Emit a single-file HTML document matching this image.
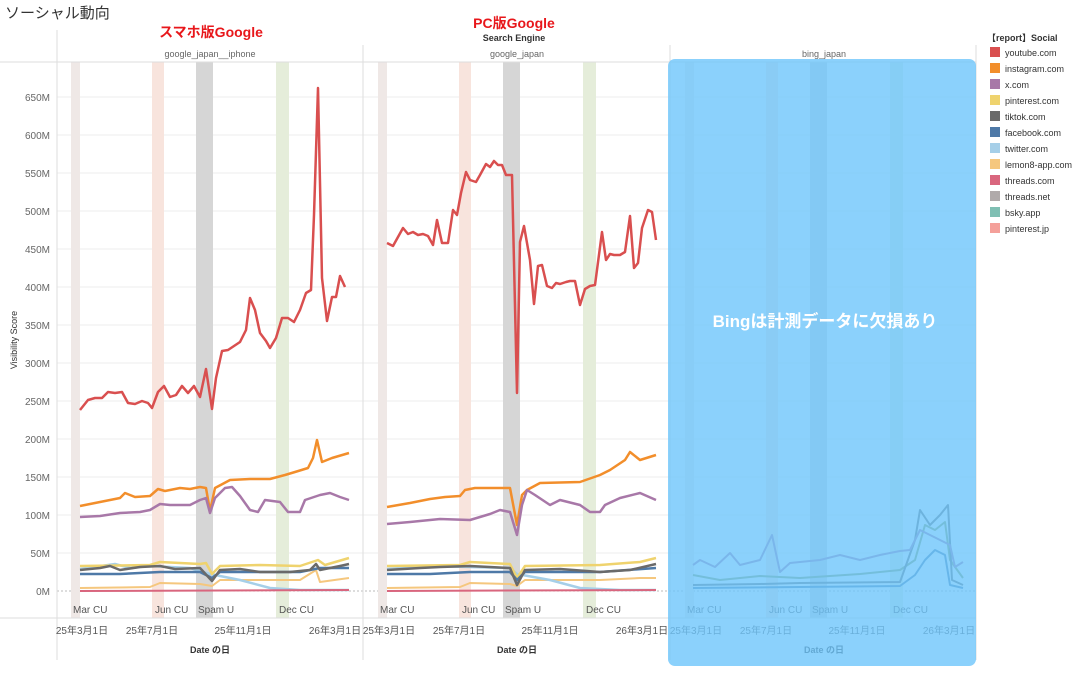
<!DOCTYPE html>
<html><head><meta charset="utf-8"><style>
body{margin:0;background:#fff;width:1087px;height:675px;overflow:hidden;font-family:"Liberation Sans","Noto Sans CJK JP",sans-serif}
</style></head><body>
<svg width="1087" height="675" xmlns="http://www.w3.org/2000/svg" font-family="Liberation Sans, Noto Sans CJK JP, sans-serif">
<defs>
<g id="bands">
<rect x="71" y="62" width="9" height="556" fill="#efe8e6"/>
<rect x="152" y="62" width="12" height="556" fill="#f8e4dd"/>
<rect x="196" y="62" width="17" height="556" fill="#d6d6d6"/>
<rect x="276" y="62" width="13" height="556" fill="#e5edda"/>
<g font-size="10" fill="#555"><text x="73" y="613">Mar CU</text><text x="155" y="613">Jun CU</text><text x="198" y="613">Spam U</text><text x="279" y="613">Dec CU</text></g>
</g>
</defs>
<text x="5" y="18" font-size="15" fill="#333">ソーシャル動向</text>
<!-- grid -->
<g stroke="#eee" stroke-width="1">
<line x1="57" x2="976" y1="97" y2="97"/><line x1="57" x2="976" y1="135" y2="135"/><line x1="57" x2="976" y1="173" y2="173"/><line x1="57" x2="976" y1="211" y2="211"/><line x1="57" x2="976" y1="249" y2="249"/><line x1="57" x2="976" y1="287" y2="287"/><line x1="57" x2="976" y1="325" y2="325"/><line x1="57" x2="976" y1="363" y2="363"/><line x1="57" x2="976" y1="401" y2="401"/><line x1="57" x2="976" y1="439" y2="439"/><line x1="57" x2="976" y1="477" y2="477"/><line x1="57" x2="976" y1="515" y2="515"/><line x1="57" x2="976" y1="553" y2="553"/>
</g>
<line x1="57" x2="976" y1="591" y2="591" stroke="#bbb" stroke-dasharray="2,2"/>
<use href="#bands"/>
<use href="#bands" transform="translate(307,0)"/>
<use href="#bands" transform="translate(614,0)"/>
<g stroke="#ddd"><line x1="0" x2="976" y1="62" y2="62"/><line x1="0" x2="976" y1="618" y2="618"/>
<line x1="57" x2="57" y1="30" y2="660"/><line x1="363" x2="363" y1="45" y2="660"/><line x1="670" x2="670" y1="45" y2="660"/><line x1="976" x2="976" y1="45" y2="660"/></g>
<g font-size="10" fill="#666" text-anchor="end">
<text x="50" y="101">650M</text><text x="50" y="139">600M</text><text x="50" y="177">550M</text><text x="50" y="215">500M</text><text x="50" y="253">450M</text><text x="50" y="291">400M</text><text x="50" y="329">350M</text><text x="50" y="367">300M</text><text x="50" y="405">250M</text><text x="50" y="443">200M</text><text x="50" y="481">150M</text><text x="50" y="519">100M</text><text x="50" y="557">50M</text><text x="50" y="595">0M</text>
</g>
<text transform="translate(17,340) rotate(-90)" font-size="9" fill="#333" text-anchor="middle">Visibility Score</text>
<g font-size="9" fill="#666" text-anchor="middle">
<text x="210" y="57">google_japan__iphone</text><text x="517" y="57">google_japan</text><text x="824" y="57">bing_japan</text>
</g>
<text x="514" y="41" font-size="9" fill="#333" font-weight="bold" text-anchor="middle">Search Engine</text>
<text x="211" y="37" font-size="14" fill="#e8171b" font-weight="bold" text-anchor="middle">スマホ版Google</text>
<text x="514" y="28" font-size="14" fill="#e8171b" font-weight="bold" text-anchor="middle">PC版Google</text>
<g font-size="10" fill="#555" text-anchor="middle">
<text x="82" y="634">25年3月1日</text><text x="152" y="634">25年7月1日</text><text x="243" y="634">25年11月1日</text><text x="335" y="634">26年3月1日</text>
<text x="389" y="634">25年3月1日</text><text x="459" y="634">25年7月1日</text><text x="550" y="634">25年11月1日</text><text x="642" y="634">26年3月1日</text>
<text x="696" y="634">25年3月1日</text><text x="766" y="634">25年7月1日</text><text x="857" y="634">25年11月1日</text><text x="949" y="634">26年3月1日</text>
</g>
<g font-size="9" fill="#333" font-weight="bold" text-anchor="middle"><text x="210" y="653">Date の日</text><text x="517" y="653">Date の日</text><text x="824" y="653">Date の日</text></g>
<g fill="none" stroke-width="2.5" stroke-linejoin="round">
<!-- panel1 -->
<polyline stroke="#f5c77e" stroke-width="2" points="80,588 150,587 160,583 200,584 212,586 220,580 260,580 300,580 316,570 320,582 349,578"/>
<polyline stroke="#a6cfe8" points="80,569 115,564 130,568 150,566 190,568 210,574 240,580 270,588 300,590 349,590"/>
<polyline stroke="#efd36e" points="80,566 150,565 160,562 200,564 206,563 212,574 220,566 260,565 300,566 318,560 325,565 349,558"/>
<polyline stroke="#4e79a7" points="80,574 120,574 160,572 200,572 212,578 220,572 260,572 300,572 320,568 349,568"/>
<polyline stroke="#6a6a6a" points="80,570 100,568 110,566 120,570 140,567 160,566 175,569 200,568 212,581 220,570 240,569 260,572 290,572 310,570 316,564 320,570 340,566 349,564"/>
<polyline stroke="#d9667e" stroke-width="2" points="80,591 349,590"/>
<polyline stroke="#f28e2b" points="80,506 100,502 120,498 125,493 135,497 150,496 158,489 165,491 180,488 190,489 200,487 206,488 210,511 215,488 230,480 250,479 270,479 285,475 295,472 308,468 313,458 317,440 322,462 332,458 349,453"/>
<polyline stroke="#a878a8" points="80,517 100,516 120,513 140,512 150,510 160,504 170,505 190,505 200,500 206,498 210,513 215,498 225,488 232,487 240,496 250,510 258,512 265,500 280,502 288,512 300,512 305,500 320,495 330,493 340,497 349,500"/>
<polyline stroke="#d94f4f" points="80,410 88,400 95,398 102,398 108,392 115,393 122,392 128,403 135,404 142,401 148,403 152,408 158,392 164,386 170,397 176,395 182,386 188,393 194,386 200,397 206,369 212,409 216,378 222,351 228,350 234,346 240,342 246,330 250,298 255,310 260,333 266,341 270,348 276,338 282,318 288,318 294,322 300,310 306,293 311,290 314,215 318,88 322,278 327,321 332,297 336,297 340,276 345,287"/>
<!-- panel2 -->
<polyline stroke="#f5c77e" stroke-width="2" points="387,588 460,587 470,583 510,584 517,586 525,580 600,580 640,578 656,578"/>
<polyline stroke="#a6cfe8" points="387,569 430,566 470,567 510,568 517,574 550,580 580,588 620,590 656,590"/>
<polyline stroke="#efd36e" points="387,566 460,565 470,562 510,564 517,578 525,566 600,565 640,562 656,558"/>
<polyline stroke="#4e79a7" points="387,574 430,574 470,572 510,572 517,580 525,572 600,572 656,568"/>
<polyline stroke="#6a6a6a" points="387,570 420,568 440,567 470,566 510,568 517,585 525,570 560,569 600,572 630,570 656,564"/>
<polyline stroke="#d9667e" stroke-width="2" points="387,591 656,590"/>
<polyline stroke="#f28e2b" points="387,507 410,503 430,499 445,497 460,496 465,490 475,488 510,488 517,525 522,495 527,490 540,483 580,482 600,475 610,470 625,460 630,452 640,460 656,455"/>
<polyline stroke="#a878a8" points="387,524 410,522 440,519 470,520 490,514 500,510 510,512 517,535 522,505 527,490 535,495 550,505 560,500 580,505 590,512 600,512 605,505 620,498 640,493 656,500"/>
<polyline stroke="#d94f4f" points="387,243 393,246 398,237 403,228 408,234 413,232 418,235 423,234 428,236 433,245 437,220 442,243 448,243 453,210 457,215 461,193 466,172 470,180 476,182 480,175 486,164 490,167 494,161 498,165 502,165 506,175 512,175 517,393 520,242 524,226 530,260 534,304 538,266 542,265 547,286 552,288 556,283 560,284 566,282 570,281 575,281 580,305 585,289 590,286 595,285 602,232 606,260 610,254 614,255 620,255 625,252 630,216 634,268 638,263 642,228 648,210 652,212 656,240"/>
<!-- panel3 -->
<polyline stroke="#8aa05a" stroke-width="2" points="693,575 720,580 760,576 800,578 860,574 900,570 915,560 925,525 935,530 945,522 950,560 963,578"/>
<polyline stroke="#6a6a6a" stroke-width="2" points="693,585 760,584 800,583 900,582 915,540 920,510 930,525 940,515 948,505 952,580 963,585"/>
<polyline stroke="#4e79a7" stroke-width="2" points="693,588 800,587 900,586 915,575 925,560 935,550 945,555 950,585 963,588"/>
<polyline stroke="#a878a8" stroke-width="2" points="693,565 700,560 715,567 730,553 740,565 760,560 772,535 780,572 790,563 820,560 840,555 860,560 880,555 900,551 910,550 920,530 940,540 950,545 955,567 963,562"/>
</g>
<rect x="668" y="59" width="308" height="607" rx="7" fill="#6ec6fb" fill-opacity="0.8"/>
<text x="825" y="327" font-size="17" fill="#fff" font-weight="bold" text-anchor="middle">Bingは計測データに欠損あり</text>
<!-- legend -->
<text x="987" y="41" font-size="9" fill="#333" font-weight="bold">【report】Social</text>
<g font-size="9" fill="#333">
<rect x="990" y="47" width="10" height="10" fill="#d94f4f"/><text x="1005" y="56">youtube.com</text>
<rect x="990" y="63" width="10" height="10" fill="#f28e2b"/><text x="1005" y="72">instagram.com</text>
<rect x="990" y="79" width="10" height="10" fill="#a878a8"/><text x="1005" y="88">x.com</text>
<rect x="990" y="95" width="10" height="10" fill="#efd36e"/><text x="1005" y="104">pinterest.com</text>
<rect x="990" y="111" width="10" height="10" fill="#6a6a6a"/><text x="1005" y="120">tiktok.com</text>
<rect x="990" y="127" width="10" height="10" fill="#4e79a7"/><text x="1005" y="136">facebook.com</text>
<rect x="990" y="143" width="10" height="10" fill="#a6cfe8"/><text x="1005" y="152">twitter.com</text>
<rect x="990" y="159" width="10" height="10" fill="#f5c77e"/><text x="1005" y="168">lemon8-app.com</text>
<rect x="990" y="175" width="10" height="10" fill="#d9667e"/><text x="1005" y="184">threads.com</text>
<rect x="990" y="191" width="10" height="10" fill="#b0aaaa"/><text x="1005" y="200">threads.net</text>
<rect x="990" y="207" width="10" height="10" fill="#7fbfb3"/><text x="1005" y="216">bsky.app</text>
<rect x="990" y="223" width="10" height="10" fill="#f4a09a"/><text x="1005" y="232">pinterest.jp</text>
</g>
</svg>
</body></html>
